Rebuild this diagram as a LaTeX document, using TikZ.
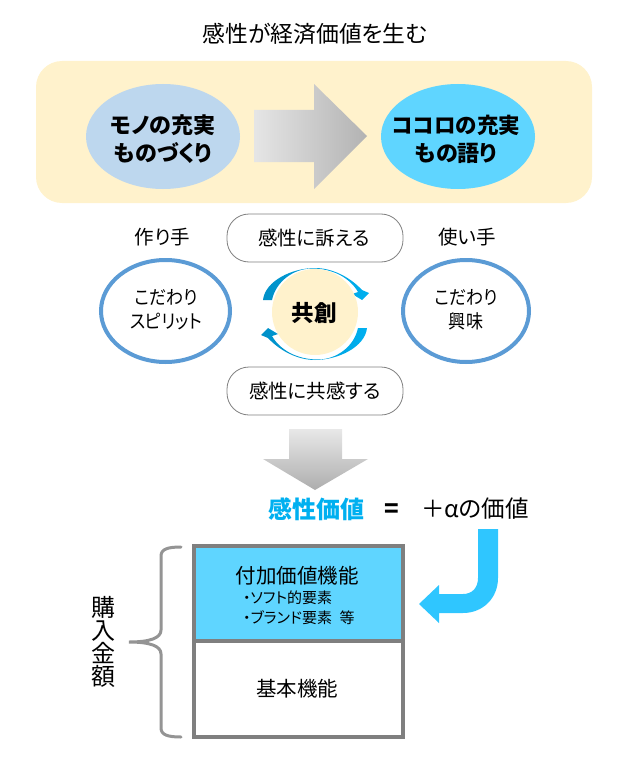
\documentclass[tikz,border=0pt]{standalone}
\usepackage{fontspec}
\setmainfont{Noto Sans CJK JP}[RawFeature=+palt]
\newfontfamily\narrowfont{Noto Sans CJK JP}[RawFeature=+palt,FakeStretch=0.9]
\definecolor{banner}{HTML}{FFF2CC}
\definecolor{softblue}{HTML}{BDD7EE}
\definecolor{skyfill}{HTML}{5FD5FF}
\definecolor{ringblue}{HTML}{5B9BD5}
\definecolor{accent}{HTML}{00B0F0}
\definecolor{boxgray}{HTML}{7F7F7F}
\definecolor{arrowblue}{HTML}{2FC6FF}
\definecolor{swirldark}{HTML}{0090C8}
\newcommand{\fs}[1]{\fontsize{#1}{#1}\selectfont}
\newcommand{\swirlpath}{(263,300) .. controls (265,281) and (292,268) .. (315,268)
  .. controls (332,268) and (350,277) .. (362,290) -- (369,293) -- (362,300) -- (352,294) -- (358,292)
  .. controls (350,278) and (333,268.5) .. (312,268.5)
  .. controls (294,268.5) and (276,281) .. (272,300) -- cycle}
\tikzset{
  x=1pt,y=-1pt,
  label20/.style={inner sep=0pt,align=center,font=\fs{19.5}},
  ringtext/.style={inner sep=0pt,align=center,font=\narrowfont\fs{19}},
  boldline/.style={inner sep=0pt,align=center,font=\fs{22}\bfseries},
  pill/.style={draw=boxgray,fill=white,line width=0.8pt,rounded corners=22pt},
  ringline/.style={draw=ringblue,line width=4pt},
  swirl/.style={left color=swirldark,right color=accent,draw=none},
  boxline/.style={draw=boxgray,line width=4pt},
}
\begin{document}
\begin{tikzpicture}
\useasboundingbox (0,0) rectangle (630,765);
\node[inner sep=0pt,font=\fs{22.8}] (title) at (315,34) {感性が経済価値を生む};
\fill[banner,rounded corners=26pt] (36,61) rectangle (592,203);
\fill[softblue] (163,136.5) ellipse [x radius=77,y radius=52.5];
\fill[skyfill] (458,136.5) ellipse [x radius=77,y radius=52.5];
\node[boldline] (mono) at (163,139) {モノの充実\\[6pt]ものづくり};
\node[boldline] (kokoro) at (456,139) {{\fs{21.5}ココロの充実}\\[6pt]もの語り};
\path[left color=black!10,right color=black!30]
  (254,110) -- (314,110) -- (314,84) -- (367,136) -- (314,189) -- (314,162) -- (254,162) -- cycle;
% people row
\draw[pill] (227,214) rectangle (403,262);
\draw[pill] (227,367) rectangle (403,415);
\node[label20] (appeal) at (314,238) {感性に訴える};
\node[label20] (empathy) at (315,391) {感性に共感する};
\node[label20] (maker) at (162.5,237) {作り手};
\node[label20] (user) at (467,237) {使い手};
\draw[ringline] (165.5,311) ellipse [x radius=64.5,y radius=51];
\draw[ringline] (466,311) ellipse [x radius=63,y radius=51];
\node[ringtext] (kodawari) at (166,310) {こだわり\\[5pt]スピリット};
\node[ringtext] (kyomi) at (466,310) {こだわり\\[5pt]興味};
% co-creation swirl
\path[swirl] \swirlpath;
\begin{scope}[rotate around={180:(315,314)}]
\path[swirl] \swirlpath;
\end{scope}
\fill[banner] (315,312) circle [radius=43];
\node[inner sep=0pt,font=\fs{22.5}\bfseries] (kyoso) at (314,313) {共創};
% down arrow
\path[top color=black!9,bottom color=black!32]
  (289,429) -- (342,429) -- (342,459) -- (368,459) -- (315,490) -- (263,459) -- (289,459) -- cycle;
% value line
\node[inner sep=0pt,font=\fs{24}\bfseries,text=accent] (kansei) at (316,509) {感性価値};
\node[inner sep=0pt,font=\fs{24}\bfseries] (eq) at (392,511) {=};
\node[inner sep=0pt,font=\fs{23.5}] (plus) at (475,509) {＋αの価値};
% bent arrow
\fill[arrowblue] (478,529) -- (498,529) -- (498,578) .. controls (498,598) and (483,613) .. (463,613)
  -- (439,613) -- (439,623) -- (419,604) -- (439,585) -- (439,594) -- (463,594)
  .. controls (472,594) and (478,588) .. (478,578) -- cycle;
% boxes
\fill[skyfill] (194,546) rectangle (403,641);
\draw[boxline] (194,546) rectangle (403,737);
\draw[boxline] (194,641) -- (403,641);
\node[inner sep=0pt,font=\fs{20.5}] (addval) at (297,576) {付加価値機能};
\node[inner sep=0pt,anchor=west,font=\fs{15}] (soft) at (243,598) {・ソフト的要素};
\node[inner sep=0pt,anchor=west,font=\fs{15}] (brand) at (243,618) {・ブランド要素\hspace{0.5em}等};
\node[inner sep=0pt,font=\fs{20.5}] (basic) at (297,689) {基本機能};
% brace
\draw[draw=black!42,line width=3pt,line cap=round]
  (181,547) .. controls (168,547) and (161,549) .. (161,556) -- (161,630)
  .. controls (161,638) and (150,642) .. (129,642)
  .. controls (150,642) and (161,646) .. (161,654) -- (161,728)
  .. controls (161,735) and (168,737) .. (181,737);
\node[inner sep=0pt,align=center,font=\fs{24}] (price) at (103,642) {購\\[-1pt]入\\[-1pt]金\\[-1pt]額};
\end{tikzpicture}
\end{document}
